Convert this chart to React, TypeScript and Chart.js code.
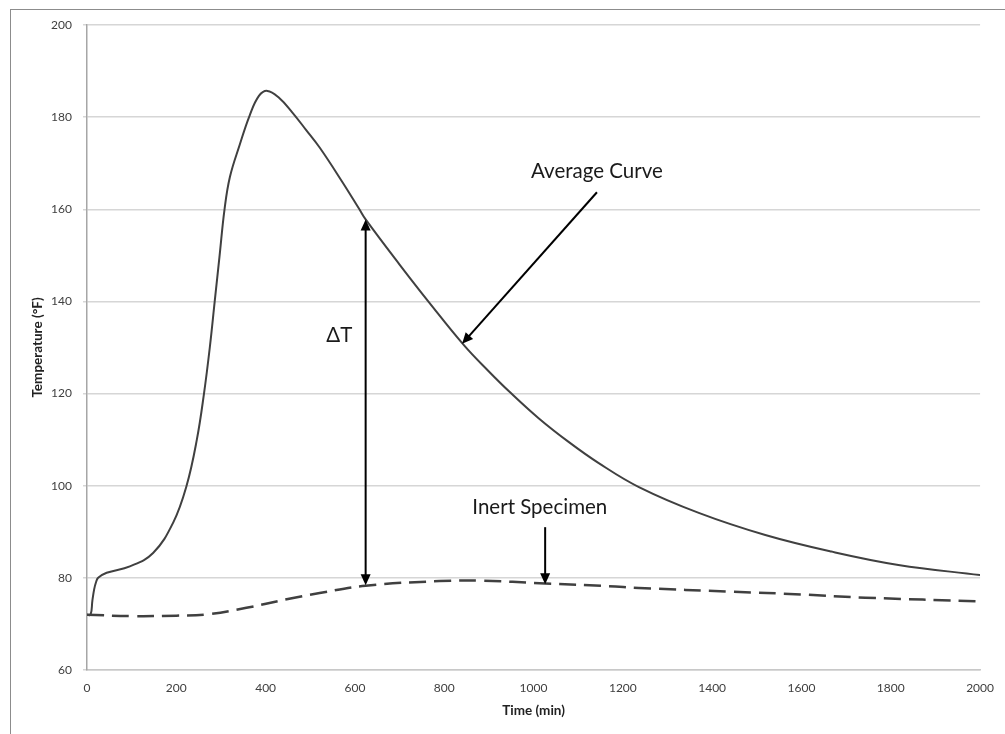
import React, { useEffect, useRef } from "react";
import { Chart, registerables } from "chart.js";

Chart.register(...registerables);

// Time (min) and temperature (°F) of the averaged reacting specimens
const avgTime = [0, 8, 12, 16, 20, 25, 44, 96, 148, 193, 223, 246, 262, 275, 286, 297, 308, 320, 342, 364, 385, 404, 430, 460, 490, 521, 570, 610, 624, 700, 766, 845, 900, 945, 1012, 1080, 1146, 1236, 1370, 1519, 1667, 1817, 2000];
const avgTemp = [72, 72, 75, 77.5, 79, 80, 81.1, 82.5, 85.4, 92, 100, 110, 120, 130, 140, 150, 160, 167, 174, 180.3, 184.6, 185.7, 184.2, 181, 177.3, 173.4, 166.2, 160, 157.8, 148, 139.8, 130.4, 124.8, 120.5, 114.6, 109.4, 104.9, 99.7, 94.1, 89.3, 85.7, 82.8, 80.6];

// Time (min) and temperature (°F) of the inert specimen
const inertTime = [0, 100, 200, 270, 357, 450, 521, 624, 789, 880, 1026, 1169, 1236, 1444, 1600, 1743, 2000];
const inertTemp = [72, 71.7, 71.8, 72.1, 73.5, 75.4, 76.7, 78.3, 79.3, 79.4, 78.8, 78.2, 77.8, 77, 76.4, 75.7, 74.9];

// Axis ranges and tick steps
const xRange = [0, 2000];
const xStep = 200;
const yRange = [60, 200];
const yStep = 20;

// Annotation anchors, in data units [time, temperature]
const deltaArrow = { t: 624, from: 157.8, to: 78.4 };
const deltaLabel = { t: 565, T: 132.6, text: "ΔT" };
const avgLabel = { t: 1142, T: 168.3, text: "Average Curve" };
const avgArrow = { from: [1142, 163.7], to: [840, 130.8] };
const inertLabel = { t: 1014, T: 95.4, text: "Inert Specimen" };
const inertArrow = { from: [1026, 91], to: [1026, 78.6] };

const toPoints = (xs: number[], ys: number[]) => xs.map((x, i) => ({ x, y: ys[i] }));

function drawArrowHead(ctx: CanvasRenderingContext2D, x1: number, y1: number, x2: number, y2: number) {
  const ang = Math.atan2(y2 - y1, x2 - x1);
  const len = 11;
  const half = 5;
  ctx.beginPath();
  ctx.moveTo(x2, y2);
  ctx.lineTo(x2 - len * Math.cos(ang) + half * Math.sin(ang), y2 - len * Math.sin(ang) - half * Math.cos(ang));
  ctx.lineTo(x2 - len * Math.cos(ang) - half * Math.sin(ang), y2 - len * Math.sin(ang) + half * Math.cos(ang));
  ctx.closePath();
  ctx.fill();
}

function arrowLine(ctx: CanvasRenderingContext2D, x1: number, y1: number, x2: number, y2: number, both: boolean) {
  const ang = Math.atan2(y2 - y1, x2 - x1);
  const inset = 9;
  ctx.beginPath();
  ctx.moveTo(both ? x1 + inset * Math.cos(ang) : x1, both ? y1 + inset * Math.sin(ang) : y1);
  ctx.lineTo(x2 - inset * Math.cos(ang), y2 - inset * Math.sin(ang));
  ctx.stroke();
  drawArrowHead(ctx, x1, y1, x2, y2);
  if (both) drawArrowHead(ctx, x2, y2, x1, y1);
}

const annotationPlugin = {
  id: "curveNotes",
  afterDatasetsDraw(chart: any) {
    const { ctx } = chart;
    const xs = chart.scales.x;
    const ys = chart.scales.y;
    const px = (t: number) => xs.getPixelForValue(t);
    const py = (T: number) => ys.getPixelForValue(T);
    ctx.save();
    ctx.strokeStyle = "#000000";
    ctx.fillStyle = "#000000";
    ctx.lineWidth = 2;

    arrowLine(ctx, px(deltaArrow.t), py(deltaArrow.from), px(deltaArrow.t), py(deltaArrow.to), true);
    arrowLine(ctx, px(avgArrow.from[0]), py(avgArrow.from[1]), px(avgArrow.to[0]), py(avgArrow.to[1]), false);
    arrowLine(ctx, px(inertArrow.from[0]), py(inertArrow.from[1]), px(inertArrow.to[0]), py(inertArrow.to[1]), false);

    ctx.fillStyle = "#1a1a1a";
    ctx.font = "20.5px Lato";
    ctx.textAlign = "center";
    ctx.textBaseline = "middle";
    ctx.fillText(deltaLabel.text, px(deltaLabel.t), py(deltaLabel.T));
    ctx.fillText(avgLabel.text, px(avgLabel.t), py(avgLabel.T));
    ctx.fillText(inertLabel.text, px(inertLabel.t), py(inertLabel.T));
    ctx.restore();
  },
};

export default function App() {
  const canvasRef = useRef<HTMLCanvasElement | null>(null);

  useEffect(() => {
    if (!canvasRef.current) return;
    const chart = new Chart(canvasRef.current, {
      type: "line",
      data: {
        datasets: [
          {
            label: "Average Curve",
            data: toPoints(avgTime, avgTemp),
            borderColor: "#404040",
            borderWidth: 2,
            pointRadius: 0,
            tension: 0.4,
            fill: false,
          },
          {
            label: "Inert Specimen",
            data: toPoints(inertTime, inertTemp),
            borderColor: "#404040",
            borderWidth: 2.5,
            borderDash: [17, 8],
            pointRadius: 0,
            tension: 0.4,
            fill: false,
          },
        ],
      },
      options: {
        animation: false,
        responsive: false,
        maintainAspectRatio: false,
        layout: { padding: { left: 0, top: 25, right: 23, bottom: 0 } },
        plugins: {
          legend: { display: false },
          tooltip: { enabled: false },
        },
        scales: {
          x: {
            type: "linear",
            min: xRange[0],
            max: xRange[1],
            ticks: {
              stepSize: xStep,
              padding: 11,
              color: "#404040",
              font: { family: "Lato", size: 12 },
              maxRotation: 0,
              callback: (v: any) => String(v),
            },
            grid: { display: true, drawOnChartArea: false, drawTicks: false },
            border: { color: "#c8c8c8", width: 1.5 },
            title: {
              display: true,
              text: "Time (min)",
              color: "#222222",
              font: { family: "Lato", size: 13.5, weight: "bold" },
              padding: { top: 0, bottom: 15 },
            },
            afterFit: (s: any) => {
              s.height = 64;
            },
          },
          y: {
            type: "linear",
            min: yRange[0],
            max: yRange[1],
            ticks: {
              stepSize: yStep,
              padding: 11,
              color: "#404040",
              font: { family: "Lato", size: 12 },
            },
            grid: { color: "#d6d6d6", lineWidth: 1.5, tickLength: 4, drawTicks: true },
            border: { color: "#a6a6a6", width: 1.5 },
            title: {
              display: true,
              text: "Temperature (°F)",
              color: "#222222",
              font: { family: "Lato", size: 13.5, weight: "bold" },
              padding: { top: 30, bottom: 0 },
            },
            afterFit: (s: any) => {
              s.width = 87;
            },
          },
        },
      },
      plugins: [annotationPlugin],
    } as any);
    return () => chart.destroy();
  }, []);

  return (
    <div style={{ position: "fixed", left: 0, top: 0, width: 1005, height: 734, overflow: "hidden", background: "#ffffff" }}>
      <div
        style={{
          position: "absolute",
          left: 10,
          top: 9,
          width: 1100,
          height: 800,
          borderLeft: "1.5px solid #8c8c8c",
          borderTop: "1.5px solid #8c8c8c",
        }}
      />
      <canvas ref={canvasRef} width={1005} height={734} style={{ position: "absolute", left: 0, top: 0, width: 1005, height: 734 }} />
    </div>
  );
}
